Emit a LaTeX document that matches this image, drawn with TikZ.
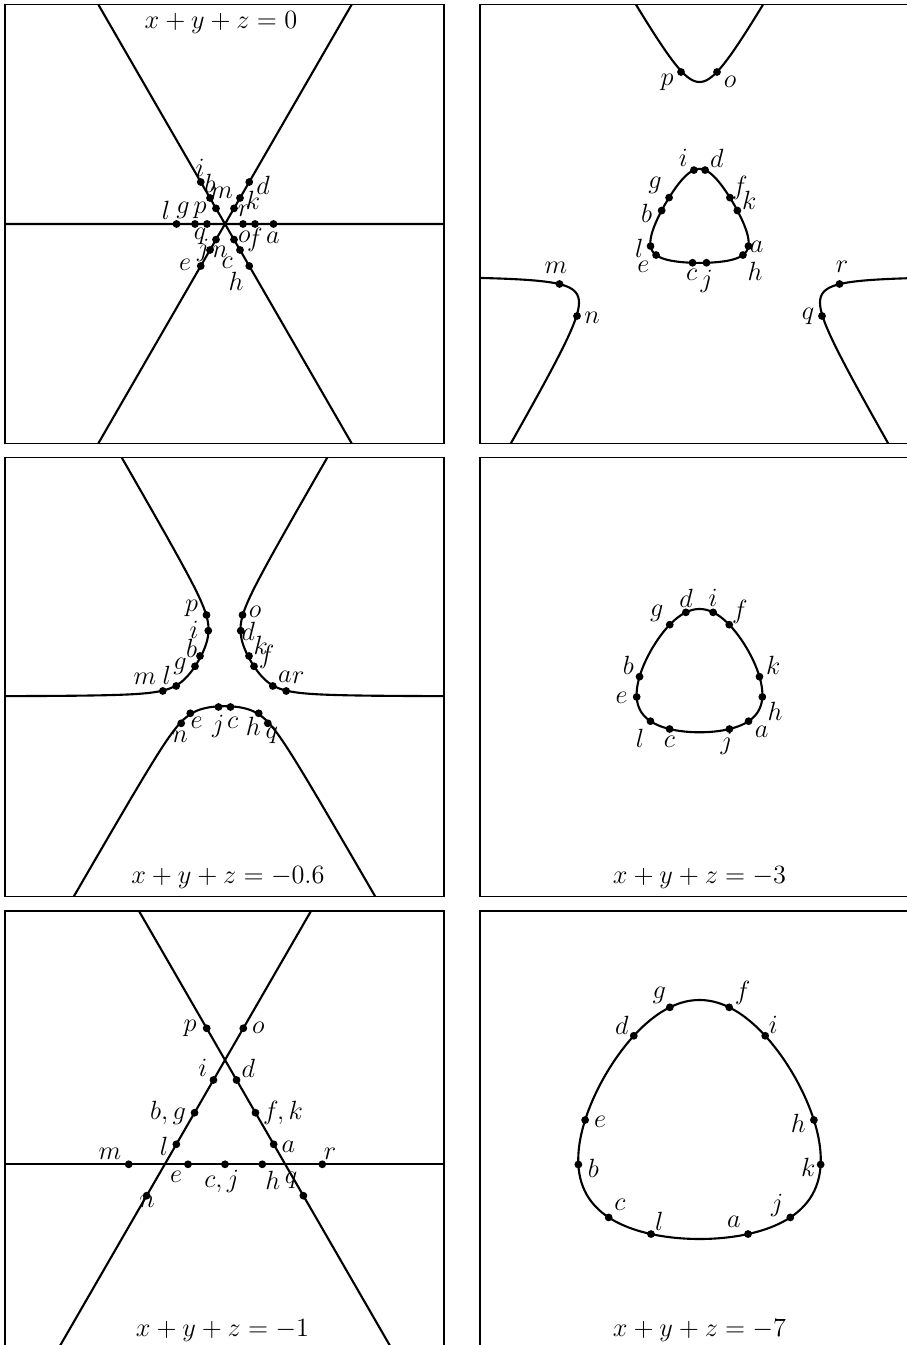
\RequirePackage{fix-cm}
\documentclass[tikz,border=0pt]{standalone}
\begin{document}
\begin{tikzpicture}[x=0.02cm,y=0.02cm,
  frame/.style={line width=0.6pt},
  curve/.style={line width=1.2pt,line join=round},
  lbl/.style={font=\fontsize{15}{18}\selectfont,inner sep=0pt},
  declare function={
    gcos(\rad,\pa,\qa)=max(-1,min(1,(-(\pa)*(\rad)^2-(\qa))/((\rad)^3)));
    oval(\ang,\pa,\qa)=1/(2*sqrt(-(\pa)/(3*(\qa)))*cos(acos(-3/(2*(\pa))*sqrt(-3*(\qa)/(\pa))*sin(3*(\ang)))/3));
  }]
\useasboundingbox (0,0) rectangle (906,1345);

% x+y+z=0 : three concurrent lines
\begin{scope}[shift={(225,1121)}]
  \clip (-220,-219.5) rectangle (219,219.5);
  \draw[curve] (180:320) -- (0:320) (240:320) -- (60:320) (300:320) -- (120:320);
  \foreach \a in {0,60,...,300} \foreach \d in {18,30,48.5} \fill (\a:\d) circle (3.9);
  \foreach \xx/\yy/\txt [count=\n] in {-25/56/i,-15/41/b,-3.3/31/m,38/39/d,28/24/k,19/13/r,
      -59/14/l,-42/14/g,-25/14/p,19.3/-12.7/o,30/-16/f,48/-14/a,
      -25/-12.7/q,-21.7/-26/j,-5/-27.7/n,-40/-41/e,2.3/-39.3/c,11/-57.7/h}
    \node[lbl] (A\n) at (\xx,\yy) {$\txt$};
  \node[lbl] (eqA) at (-4,201) {$x+y+z=0$};
\end{scope}

% oval with three branches
\begin{scope}[shift={(699.5,1121.5)}]
  \clip (-219.5,-220) rectangle (219.5,219);
  \begin{scope}[scale=100]
    \draw[curve] plot[domain=0:360,samples=181] (\x:{oval(\x,-1.567,0.3044)}) -- cycle;
    \foreach \k in {0,120,240}
      \draw[curve] plot[domain=-1.34:1.34,samples=121,variable=\s]
        ({90+\k+(\s<0?-1:1)*acos(gcos(1.415+\s*\s,-1.567,0.3044))/3}:{1.415+\s*\s});
    \foreach \t in {96,84,139.6,40.4,161.1,18.9,204.8,335.2,216,324,259.9,280.1}
      \fill (\t:{oval(\t,-1.567,0.3044)}) circle (0.039);
  \end{scope}
  \foreach \pt in {(-18.5,151.5),(17.5,151.5),(-140,-60.5),(140,-60.5),(-122.5,-92.5),(122.5,-92.5)}
    \fill \pt circle (3.9);
  \foreach \xx/\yy/\txt [count=\n] in {-16.2/65.2/i,17.2/65.2/d,-44.5/38.5/g,40.5/35.2/f,49.8/22.8/k,
      -52.8/10.2/b,-60.2/-24.8/l,-56.2/-43.2/e,57.2/-23.2/a,55.5/-48.2/h,-7.8/-51.5/c,7.2/-58.2/j,
      -32.5/141.5/p,30.5/141.5/o,-143.5/-44.5/m,142.5/-43.5/r,-107.5/-94.5/n,108.5/-92.5/q}
    \node[lbl] (B\n) at (\xx,\yy) {$\txt$};
\end{scope}

% x+y+z=-0.6 : three branches
\begin{scope}[shift={(224.5,669)}]
  \clip (-219.5,-220.3) rectangle (219.5,218.3);
  \begin{scope}[scale=100]
    \foreach \a in {150,270,30}
      \draw[curve] plot[domain=-1.7:1.7,samples=121,variable=\s]
        ({\a+(\s<0?-1:1)*(60-acos(gcos(0.302+\s*\s,-0.615,0.08363))/3)}:{0.302+\s*\s});
  \end{scope}
  \foreach \pt in {(-18,61),(18,61),(-16.2,45.3),(16.2,45.3),(-24.5,20),(24.5,20),(-29.5,9.7),(29.5,9.7),
      (-48.3,-10),(48.3,-10),(-61.7,-15),(61.7,-15),(-43.3,-47.3),(43.3,-47.3),(-34.2,-37.3),(34.2,-37.3),(-6,-31),(6,-31)}
    \fill \pt circle (3.9);
  \foreach \xx/\yy/\txt [count=\n] in {-32.8/67.7/p,-30.5/46/i,-32.8/27.7/b,-44.5/10/g,-57.8/1/l,-79.5/-3.3/m,
      30.5/64.3/o,23.8/44.3/d,36.2/31/k,42.2/19.3/f,60.5/-0.7/a,73.8/-2.3/r,
      -27.8/-47.3/e,-44.5/-60.7/n,-6.2/-50.7/j,8.2/-47.3/c,28.8/-50.7/h,47.2/-59/q}
    \node[lbl] (C\n) at (\xx,\yy) {$\txt$};
  \node[lbl] (eqC) at (3.5,-202) {$x+y+z=-0.6$};
\end{scope}

% x+y+z=-3 : oval
\begin{scope}[shift={(699.5,668)}]
  \clip (-219.5,-219.3) rectangle (219.5,219.3);
  \begin{scope}[scale=100]
    \draw[curve] plot[domain=0:360,samples=181] (\x:{oval(\x,-3.087,1.1131)}) -- cycle;
    \foreach \t in {101.9,78.1,119.6,60.4,179.7,0.3,197.6,342.4,222,318,240.1,299.9}
      \fill (\t:{oval(\t,-3.087,1.1131)}) circle (0.039);
  \end{scope}
  \foreach \xx/\yy/\txt [count=\n] in {-13.5/79/d,13.5/79/i,-42.8/64/g,40.5/65.3/f,-71.2/12/b,73.8/12/k,
      -77.8/-21.3/e,75.5/-34.7/h,-59.5/-61.3/l,-30.2/-64.7/c,27.2/-66.3/j,62.2/-54.7/a}
    \node[lbl] (D\n) at (\xx,\yy) {$\txt$};
  \node[lbl] (eqD) at (0,-201) {$x+y+z=-3$};
\end{scope}

% x+y+z=-1 : triangle of lines
\begin{scope}[shift={(225,215.5)}]
  \clip (-220,-220.5) rectangle (219,218.5);
  \coordinate (V) at (0,69.5);
  \draw[curve] (-250,-34.8) -- (250,-34.8);
  \draw[curve] (V) ++(60:250) -- ++(240:600);
  \draw[curve] (V) ++(120:250) -- ++(300:600);
  \foreach \a/\d in {60/36.6,120/36.6,240/23.1,300/23.1,240/60.9,300/60.9,240/97.3,300/97.3,240/156.7,300/156.7}
    \fill (V) ++(\a:\d) circle (3.9);
  \foreach \xx in {-96.3,-37,0,37.3,97.3} \fill (\xx,-34.8) circle (3.9);
  \foreach \xx/\yy/\txt [count=\n] in {-35/101.2/p,33.3/101.2/o,-22.3/61.2/i,23.3/61.2/d,
      -57/16.8/{b,g},58/16.8/{f,k},-61/-17.2/l,63.3/-17.2/a,-115/-24.5/m,105/-24.5/r,
      -49/-47.2/e,-3.3/-52.2/{c,j},47.7/-50.5/h,-78/-72.5/n,66/-50.5/q}
    \node[lbl] (E\n) at (\xx,\yy) {$\txt$};
  \node[lbl] (eqE) at (-2.5,-201.5) {$x+y+z=-1$};
\end{scope}

% x+y+z=-7 : large oval
\begin{scope}[shift={(699.5,215)}]
  \clip (-219.5,-220) rectangle (219.5,219);
  \begin{scope}[scale=100]
    \draw[curve] plot[domain=0:360,samples=181] (\x:{oval(\x,-6.958,9.562)}) -- cycle;
    \foreach \t in {103.6,76.4,124.9,55.1,175,5,195.9,344.1,223.9,316.1,245,295}
      \fill (\t:{oval(\t,-6.958,9.562)}) circle (0.039);
  \end{scope}
  \foreach \xx/\yy/\txt [count=\n] in {-40.2/135/g,43.2/136.7/f,-77.8/105/d,73.8/105/i,-99.5/8.3/e,98.8/6.7/h,
      -106.2/-38.3/b,108.8/-37.7/k,-79.5/-75/c,77.8/-75/j,-40.2/-91.7/l,34.5/-91.7/a}
    \node[lbl] (F\n) at (\xx,\yy) {$\txt$};
  \node[lbl] (eqF) at (0,-201) {$x+y+z=-7$};
\end{scope}

% panel frames
\foreach \xa in {5,480} \foreach \ya in {901.5,448.7,-5}
  \draw[frame] (\xa,\ya) rectangle ++(439,439);
\end{tikzpicture}
\end{document}
